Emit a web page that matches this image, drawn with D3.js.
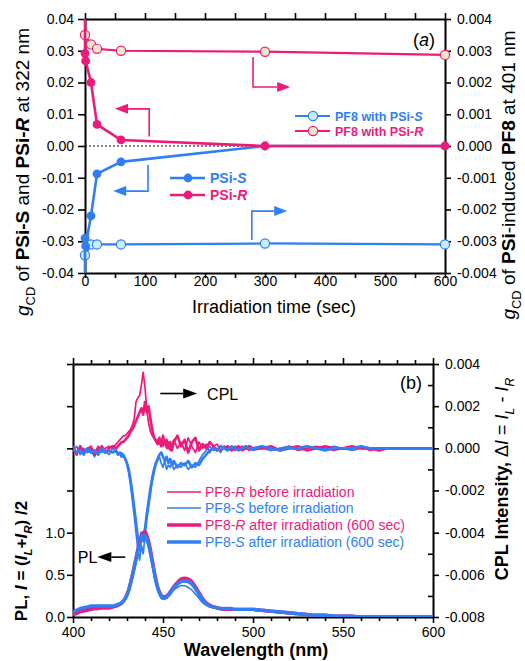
<!DOCTYPE html>
<html>
<head>
<meta charset="utf-8">
<script src="https://cdn.jsdelivr.net/npm/d3@7"></script>
<style>
body{margin:0;background:#fff}
</style>
</head>
<body>
<script>
// ---------- panel (a): g_CD vs irradiation time ----------
const psiT   = [0, 0, 1, 10, 20, 60, 300, 600];
const psiR   = [0.042, 0.0292, 0.0268, 0.020, 0.0068, 0.0019, 0.0, 0.0];
const psiS   = [-0.042, -0.0290, -0.0315, -0.022, -0.0088, -0.0050, 0.0, 0.0];
const pf8T   = [0, 10, 20, 60, 300, 600];
const pf8R   = [0.0035, 0.0032, 0.00306, 0.0030, 0.00297, 0.00287];
const pf8S   = [-0.00344, -0.0031, -0.0031, -0.0031, -0.00307, -0.0031];

// ---------- panel (b): PL and CPL spectra ----------
const wl = [400,402,404,406,408,410,412,414,416,418,420,422,424,
  425,426,427,428,429,430,431,432,433,434,435,436,437,438,439,440,441,442,443,444,445,446,447,448,449,450,451,452,453,454,455,
  456,458,460,462,464,466,468,470,472,474,476,478,480,482,484,486,488,490,492,494,496,498,500,
  505,510,515,520,525,530,535,540,545,550,555,560,565,570,575,580,585,590,595,600];

// CPL in units of 10^-3
const cplRBefore = [0.1,-0.2,0.1,-0.1,0.0,0.1,-0.2,0.1,-0.1,0.0,0.1,0.0,0.2,
  0.3,0.4,0.5,0.6,0.6,0.7,0.8,0.9,1.1,1.4,2.2,2.4,2.5,3.0,3.6,2.9,1.8,1.2,0.8,0.6,0.5,0.3,0.4,0.2,0.4,0.1,0.3,0.0,0.3,-0.1,0.2,
  0.4,0.0,0.3,-0.1,0.5,0.1,-0.2,0.3,0.0,0.2,-0.2,0.1,0.2,-0.1,0.1,0.0,0.1,-0.1,0.0,0.1,0.0,-0.1,0.0,
  0.1,-0.1,0.0,0.1,-0.1,0.0,0.1,0.0,-0.1,0.0,0.0,0.1,-0.1,0.0,0.0,0.0,0.0,0.0,0.0,0.0];
const cplSBefore = [-0.1,0.1,-0.3,0.0,-0.2,-0.1,-0.4,0.0,-0.2,-0.1,-0.3,0.0,-0.2,
  -0.2,-0.3,-0.2,-0.4,-0.5,-0.8,-1.2,-1.8,-2.5,-3.2,-4.0,-4.8,-5.3,-4.6,-5.0,-4.2,-3.4,-2.8,-2.2,-1.6,-1.2,-0.8,-0.6,-0.4,-0.7,-0.9,-0.6,-1.0,-0.8,-0.9,-0.7,
  -1.0,-0.8,-0.9,-0.7,-1.0,-0.8,-0.9,-0.6,-0.3,-0.1,0.1,-0.1,0.0,-0.2,0.1,-0.1,0.0,0.1,-0.1,0.0,0.1,0.0,-0.1,
  0.0,-0.1,0.0,0.1,0.0,-0.1,0.0,0.0,0.1,0.0,-0.1,0.0,0.0,0.0,0.0,0.0,0.0,0.0,0.0,0.0];
const cplRAfter = [0.0,-0.3,0.1,-0.2,-0.1,0.0,-0.3,-0.1,0.1,-0.2,0.0,0.1,0.0,
  0.1,0.2,0.3,0.3,0.4,0.5,0.6,0.8,0.9,1.1,1.3,1.5,1.7,1.9,1.6,2.2,1.7,2.0,1.4,0.9,0.5,0.4,0.2,0.5,0.1,0.6,0.2,0.4,0.0,0.3,-0.1,
  0.3,0.6,0.1,0.4,-0.2,0.3,0.5,-0.1,0.2,0.0,0.3,0.1,-0.1,0.1,0.0,0.1,-0.1,0.0,0.1,-0.1,0.0,0.1,0.0,
  0.0,0.1,-0.1,0.0,0.1,-0.1,0.0,0.1,0.0,0.0,0.1,0.0,0.0,-0.1,0.0,0.0,0.0,0.0,0.0,0.0];
const cplSAfter = [0.0,-0.2,-0.1,-0.3,0.0,-0.2,-0.1,-0.3,0.0,-0.2,-0.1,-0.2,-0.1,
  -0.3,-0.2,-0.4,-0.3,-0.5,-0.7,-1.0,-1.5,-2.1,-2.8,-3.5,-4.2,-4.5,-4.0,-4.4,-3.8,-3.1,-2.5,-1.9,-1.4,-1.0,-0.7,-0.5,-0.3,-0.2,-0.4,-0.6,-0.4,-0.7,-0.5,-0.8,
  -0.6,-0.9,-0.7,-0.8,-0.6,-0.9,-0.7,-0.8,-0.5,-0.3,-0.1,0.0,-0.1,0.1,0.0,-0.1,0.1,0.0,-0.1,0.0,0.1,0.0,0.0,
  0.1,0.0,-0.1,0.0,0.0,0.1,0.0,-0.1,0.0,0.0,0.0,0.1,0.0,0.0,0.0,0.0,0.0,0.0,0.0,0.0];

const plRBefore = [0.02,0.03,0.05,0.06,0.07,0.08,0.09,0.09,0.10,0.10,0.10,0.11,0.12,
  0.13,0.14,0.16,0.18,0.21,0.25,0.31,0.39,0.48,0.58,0.68,0.78,0.87,0.94,0.98,0.99,0.95,0.88,0.78,0.66,0.54,0.43,0.34,0.28,0.24,0.22,0.22,0.23,0.25,0.28,0.31,
  0.34,0.38,0.41,0.42,0.41,0.38,0.32,0.25,0.19,0.15,0.12,0.11,0.10,0.09,0.09,0.09,0.09,0.09,0.08,0.08,0.08,0.08,0.08,
  0.07,0.06,0.05,0.04,0.03,0.03,0.02,0.02,0.01,0.01,0.00,0.00,0.00,0.00,0.00,0.00,0.00,0.00,0.00,0.00];
const plSBefore = [0.04,0.05,0.06,0.07,0.08,0.09,0.09,0.09,0.10,0.10,0.10,0.11,0.12,
  0.13,0.14,0.15,0.17,0.20,0.24,0.30,0.37,0.46,0.55,0.65,0.74,0.82,0.89,0.93,0.93,0.89,0.82,0.72,0.61,0.50,0.40,0.32,0.26,0.22,0.21,0.21,0.22,0.24,0.26,0.29,
  0.32,0.35,0.37,0.37,0.35,0.32,0.27,0.22,0.17,0.14,0.12,0.11,0.10,0.09,0.09,0.09,0.09,0.08,0.08,0.08,0.08,0.08,0.08,
  0.07,0.06,0.05,0.04,0.03,0.03,0.02,0.02,0.01,0.01,0.00,0.00,0.00,0.00,0.00,0.00,0.00,0.00,0.00,0.00];
const plRAfter = [0.03,0.05,0.07,0.08,0.09,0.10,0.11,0.11,0.11,0.11,0.11,0.12,0.13,
  0.14,0.15,0.17,0.19,0.22,0.27,0.33,0.41,0.50,0.60,0.70,0.80,0.89,0.96,1.00,1.01,0.97,0.90,0.80,0.68,0.56,0.45,0.36,0.30,0.26,0.24,0.24,0.25,0.27,0.30,0.33,
  0.36,0.41,0.45,0.46,0.45,0.42,0.36,0.29,0.22,0.17,0.14,0.12,0.11,0.10,0.09,0.09,0.09,0.09,0.09,0.09,0.09,0.09,0.09,
  0.08,0.07,0.06,0.05,0.04,0.03,0.02,0.02,0.01,0.01,0.01,0.00,0.00,0.00,0.00,0.00,0.00,0.00,0.00,0.00];
const plSAfter = [0.06,0.08,0.10,0.11,0.12,0.13,0.13,0.13,0.13,0.13,0.13,0.13,0.14,
  0.15,0.16,0.17,0.19,0.22,0.26,0.32,0.40,0.49,0.58,0.68,0.78,0.86,0.93,0.97,0.97,0.93,0.86,0.76,0.65,0.54,0.43,0.35,0.29,0.25,0.23,0.23,0.24,0.26,0.29,0.32,
  0.35,0.39,0.42,0.43,0.42,0.39,0.34,0.27,0.21,0.16,0.13,0.12,0.11,0.10,0.10,0.10,0.10,0.09,0.09,0.09,0.09,0.09,0.09,
  0.08,0.07,0.06,0.05,0.04,0.03,0.02,0.02,0.01,0.01,0.01,0.00,0.00,0.00,0.00,0.00,0.00,0.00,0.00,0.00];

const pink = "#ee1a7a", blue = "#2f7ef6";
const font = "'Liberation Sans', Arial, Helvetica, sans-serif";
const minus = s => s.replace("\u2212", "-");

const svg = d3.select("body").append("svg")
  .attr("width", 525).attr("height", 661)
  .attr("font-family", font);

function styleAxis(g, size) {
  g.attr("font-family", font);
  g.select(".domain").attr("stroke", "#000").attr("stroke-width", 2);
  g.selectAll(".tick line").attr("stroke", "#000").attr("stroke-width", 1.6);
  g.selectAll(".tick text").attr("font-size", size || 14).attr("fill", "#000");
}

// text with bold / italic / subscript pieces
function rich(sel, parts, size) {
  const t = sel.append("text").attr("font-size", size);
  let shift = 0;
  parts.forEach(p => {
    const o = p[1] || {};
    const ts = t.append("tspan").text(p[0]);
    if (o.b) ts.attr("font-weight", "bold");
    if (o.i) ts.attr("font-style", "italic");
    const want = o.sub ? size * 0.32 : 0;
    if (want !== shift) { ts.attr("dy", want - shift); shift = want; }
    if (o.sub) ts.attr("font-size", size * 0.68);
  });
  return t;
}

function arrow(g, pts, color, L = 13, hw = 5) {
  const n = pts.length, [x1, y1] = pts[n - 2], [x2, y2] = pts[n - 1];
  const a = Math.atan2(y2 - y1, x2 - x1);
  const bx = x2 - L * Math.cos(a), by = y2 - L * Math.sin(a);
  g.append("path").attr("d", d3.line()(pts.slice(0, n - 1).concat([[bx, by]])))
    .attr("fill", "none").attr("stroke", color).attr("stroke-width", 1.6);
  g.append("path").attr("d", d3.line()([[x2, y2],
      [bx - hw * Math.sin(a), by + hw * Math.cos(a)],
      [bx + hw * Math.sin(a), by - hw * Math.cos(a)]]) + "Z")
    .attr("fill", color);
}

// ================= Panel (a) =================
const A = {l: 85, r: 445, t: 19, b: 273};
const xA = d3.scaleLinear().domain([0, 600]).range([A.l, A.r]);
const yAL = d3.scaleLinear().domain([-0.04, 0.04]).range([A.b, A.t]);
const yAR = d3.scaleLinear().domain([-0.004, 0.004]).range([A.b, A.t]);

svg.append("clipPath").attr("id", "clipA").append("rect")
  .attr("x", A.l - 10).attr("y", A.t).attr("width", A.r - A.l + 20).attr("height", A.b - A.t);

const ga = svg.append("g");

// zero line
ga.append("line").attr("x1", A.l).attr("x2", A.r).attr("y1", yAL(0)).attr("y2", yAL(0))
  .attr("stroke", "#000").attr("stroke-width", 1).attr("stroke-dasharray", "2,2");

const tTicks = d3.range(0, 601, 50);
ga.append("g").attr("transform", `translate(0,${A.b})`)
  .call(d3.axisBottom(xA).tickValues(tTicks).tickFormat(d => d % 100 === 0 ? d : "").tickSize(5).tickSizeOuter(0))
  .call(g => styleAxis(g))
  .call(g => g.selectAll(".tick text").attr("y", 13).attr("dy", null));
ga.append("g").attr("transform", `translate(0,${A.t})`)
  .call(d3.axisTop(xA).tickValues(tTicks).tickFormat("").tickSize(6).tickSizeOuter(0))
  .call(g => styleAxis(g));
ga.append("g").attr("transform", `translate(${A.l},0)`)
  .call(d3.axisLeft(yAL).tickValues(d3.range(-0.04, 0.0401, 0.01)).tickFormat(d => minus(d3.format(".2f")(d))).tickSize(7).tickPadding(4).tickSizeOuter(0))
  .call(g => styleAxis(g));
ga.append("g").attr("transform", `translate(${A.r},0)`)
  .call(d3.axisRight(yAR).tickValues(d3.range(-0.004, 0.00401, 0.001)).tickFormat(d => minus(d3.format(".3f")(d))).tickSize(6).tickPadding(6).tickSizeOuter(0))
  .call(g => styleAxis(g));

const dA = ga.append("g").attr("clip-path", "url(#clipA)");
function seriesA(ts, vs, y, color, open, fill) {
  const pts = ts.map((t, i) => [xA(t), y(vs[i])]);
  dA.append("path").attr("d", d3.line()(pts)).attr("fill", "none")
    .attr("stroke", color).attr("stroke-width", open ? 2.2 : 2.6);
  dA.selectAll(null).data(pts).enter().append("circle")
    .attr("cx", d => d[0]).attr("cy", d => d[1]).attr("r", open ? 4.6 : 4.4)
    .attr("fill", open ? fill : color).attr("stroke", color).attr("stroke-width", open ? 1.2 : 0);
}
seriesA(pf8T, pf8S, yAR, blue, true, "#c9ecf6");
seriesA(pf8T, pf8R, yAR, pink, true, "#f5e7c6");
seriesA(psiT, psiS, yAL, blue, false);
seriesA(psiT, psiR, yAL, pink, false);

// guide arrows
arrow(ga, [[xA(107), yAL(0.003)], [xA(107), yAL(0.0117)], [xA(50), yAL(0.0117)]], pink);
arrow(ga, [[xA(280), yAR(0.0028)], [xA(280), yAR(0.00186)], [xA(342), yAR(0.00186)]], pink);
arrow(ga, [[xA(105), yAL(-0.006)], [xA(105), yAL(-0.0142)], [xA(47), yAL(-0.0142)]], blue);
arrow(ga, [[xA(278), yAR(-0.00296)], [xA(278), yAR(-0.00205)], [xA(337), yAR(-0.00205)]], blue);

// legends
function legA(x, y, color, open, fill, parts, size) {
  ga.append("line").attr("x1", x).attr("x2", x + 35).attr("y1", y).attr("y2", y)
    .attr("stroke", color).attr("stroke-width", open ? 2.2 : 2.6);
  ga.append("circle").attr("cx", x + 18).attr("cy", y).attr("r", open ? 4.6 : 4.4)
    .attr("fill", open ? fill : color).attr("stroke", color).attr("stroke-width", open ? 1.2 : 0);
  rich(ga, parts, size).attr("x", x + 40).attr("y", y + 4.5).attr("fill", color).attr("font-weight", "bold");
}
legA(295, 116, blue, true, "#c9ecf6", [["PF8 with PSi-"], ["S", {i: 1}]], 12.5);
legA(295, 131, pink, true, "#f5e7c6", [["PF8 with PSi-"], ["R", {i: 1}]], 12.5);
legA(170, 178, blue, false, null, [["PSi-"], ["S", {i: 1}]], 14);
legA(170, 195, pink, false, null, [["PSi-"], ["R", {i: 1}]], 14);

rich(ga, [["("], ["a", {i: 1}], [")"]], 18).attr("x", 413).attr("y", 46);

rich(ga, [["g", {i: 1}], ["CD", {sub: 1}], [" of "], ["PSi-S", {b: 1}], [" and "], ["PSi-", {b: 1}], ["R", {b: 1, i: 1}], [" at 322 nm"]], 19)
  .attr("text-anchor", "middle").attr("transform", "translate(29,172) rotate(-90)");
rich(ga, [["g", {i: 1}], ["CD", {sub: 1}], [" of "], ["PSi", {b: 1}], ["-induced "], ["PF8", {b: 1}], [" at 401 nm"]], 19)
  .attr("text-anchor", "middle").attr("transform", "translate(515,175) rotate(-90)");
ga.append("text").attr("x", 274).attr("y", 313).attr("text-anchor", "middle")
  .attr("font-size", 18).text("Irradiation time (sec)");

// ================= Panel (b) =================
const B = {l: 73, r: 433, t: 364, b: 617};
const xB = d3.scaleLinear().domain([400, 600]).range([B.l, B.r]);
const yPL = d3.scaleLinear().domain([0, 3]).range([B.b, B.t]);
const yCPL = d3.scaleLinear().domain([-8, 4]).range([B.b, B.t]); // 10^-3 units

svg.append("clipPath").attr("id", "clipB").append("rect")
  .attr("x", B.l).attr("y", B.t).attr("width", B.r - B.l).attr("height", B.b - B.t);

const gb = svg.append("g");
const wTicks = d3.range(400, 601, 10);
gb.append("g").attr("transform", `translate(0,${B.b})`)
  .call(d3.axisBottom(xB).tickValues(wTicks).tickFormat(d => d % 50 === 0 ? d : "").tickSize(6).tickSizeOuter(0))
  .call(g => styleAxis(g))
  .call(g => g.selectAll(".tick line").attr("y2", d => d % 50 === 0 ? 6 : 4))
  .call(g => g.selectAll(".tick text").attr("y", 20).attr("dy", null));
gb.append("g").attr("transform", `translate(0,${B.t})`)
  .call(d3.axisTop(xB).tickValues(wTicks).tickFormat("").tickSize(6).tickSizeOuter(0))
  .call(g => styleAxis(g))
  .call(g => g.selectAll(".tick line").attr("y2", d => d % 50 === 0 ? -6 : -4));
gb.append("g").attr("transform", `translate(${B.l},0)`)
  .call(d3.axisLeft(yPL).tickValues(d3.range(0, 3.01, 0.5)).tickFormat(d => d <= 1 ? d3.format(".1f")(d) : "").tickSize(6).tickPadding(2).tickSizeOuter(0))
  .call(g => styleAxis(g));
gb.append("g").attr("transform", `translate(${B.r},0)`)
  .call(d3.axisRight(yCPL).tickValues(d3.range(-8, 4.01, 1)).tickFormat(d => d % 2 === 0 ? minus(d3.format(".3f")(d / 1000)) : "").tickSize(6).tickPadding(6).tickSizeOuter(0))
  .call(g => styleAxis(g))
  .call(g => g.selectAll(".tick line").attr("x1", d => d % 2 === 0 ? 0 : -5).attr("x2", d => d % 2 === 0 ? 6 : 0));

const dB = gb.append("g").attr("clip-path", "url(#clipB)");
function spec(vals, y, color, w, curve) {
  dB.append("path")
    .attr("d", d3.line().x((d, i) => xB(wl[i])).y(d => y(d)).curve(curve)(vals))
    .attr("fill", "none").attr("stroke", color).attr("stroke-width", w).attr("stroke-linejoin", "round");
}
spec(cplRBefore, yCPL, pink, 1.7, d3.curveLinear);
spec(cplSBefore, yCPL, blue, 1.7, d3.curveLinear);
spec(cplRAfter, yCPL, pink, 2.6, d3.curveLinear);
spec(cplSAfter, yCPL, blue, 2.6, d3.curveLinear);
spec(plRBefore, yPL, pink, 1.6, d3.curveMonotoneX);
spec(plSBefore, yPL, blue, 1.6, d3.curveMonotoneX);
spec(plRAfter, yPL, pink, 3.4, d3.curveMonotoneX);
spec(plSAfter, yPL, blue, 3.4, d3.curveMonotoneX);

// CPL / PL pointers
arrow(gb, [[xB(448.5), yCPL(2.6)], [xB(469), yCPL(2.6)]], "#000", 14, 5);
gb.append("text").attr("x", xB(474.5)).attr("y", yCPL(2.6) + 6).attr("font-size", 16).text("CPL");
arrow(gb, [[xB(429), yPL(0.71)], [xB(413.5), yPL(0.71)]], "#000", 14, 5);
gb.append("text").attr("x", xB(413.5)).attr("y", yPL(0.71) + 6).attr("text-anchor", "end").attr("font-size", 16).text("PL");

// legend
const legB = [
  {lab: [["PF8-"], ["R", {i: 1}], [" before irradiation"]], c: pink, w: 1.6},
  {lab: [["PF8-"], ["S", {i: 1}], [" before irradiation"]], c: blue, w: 1.6},
  {lab: [["PF8-"], ["R", {i: 1}], [" after irradiation (600 sec)"]], c: pink, w: 3.4},
  {lab: [["PF8-"], ["S", {i: 1}], [" after irradiation (600 sec)"]], c: blue, w: 3.4}
];
const legY = [492, 508, 525, 542];
legB.forEach((d, i) => {
  gb.append("line").attr("x1", 167).attr("x2", 201).attr("y1", legY[i]).attr("y2", legY[i])
    .attr("stroke", d.c).attr("stroke-width", d.w);
  rich(gb, d.lab, 14).attr("x", 205).attr("y", legY[i] + 5).attr("fill", d.c);
});

gb.append("text").attr("x", 400).attr("y", 389).attr("font-size", 18).text("(b)");

rich(gb, [["PL, "], ["I", {i: 1}], [" = ("], ["I", {i: 1}], ["L", {sub: 1, i: 1}], ["+"], ["I", {i: 1}], ["R", {sub: 1, i: 1}], [") /2"]], 17)
  .attr("font-weight", "bold").attr("text-anchor", "middle").attr("transform", "translate(27,561) rotate(-90)");
rich(gb, [["CPL Intensity, ", {b: 1}], ["\u0394"], ["I", {i: 1}], [" = "], ["I", {i: 1}], ["L", {sub: 1, i: 1}], [" - "], ["I", {i: 1}], ["R", {sub: 1, i: 1}]], 18)
  .attr("text-anchor", "middle").attr("transform", "translate(508,479) rotate(-90)");
gb.append("text").attr("x", 256).attr("y", 656).attr("text-anchor", "middle")
  .attr("font-size", 18).attr("font-weight", "bold").text("Wavelength (nm)");
</script>
</body>
</html>
